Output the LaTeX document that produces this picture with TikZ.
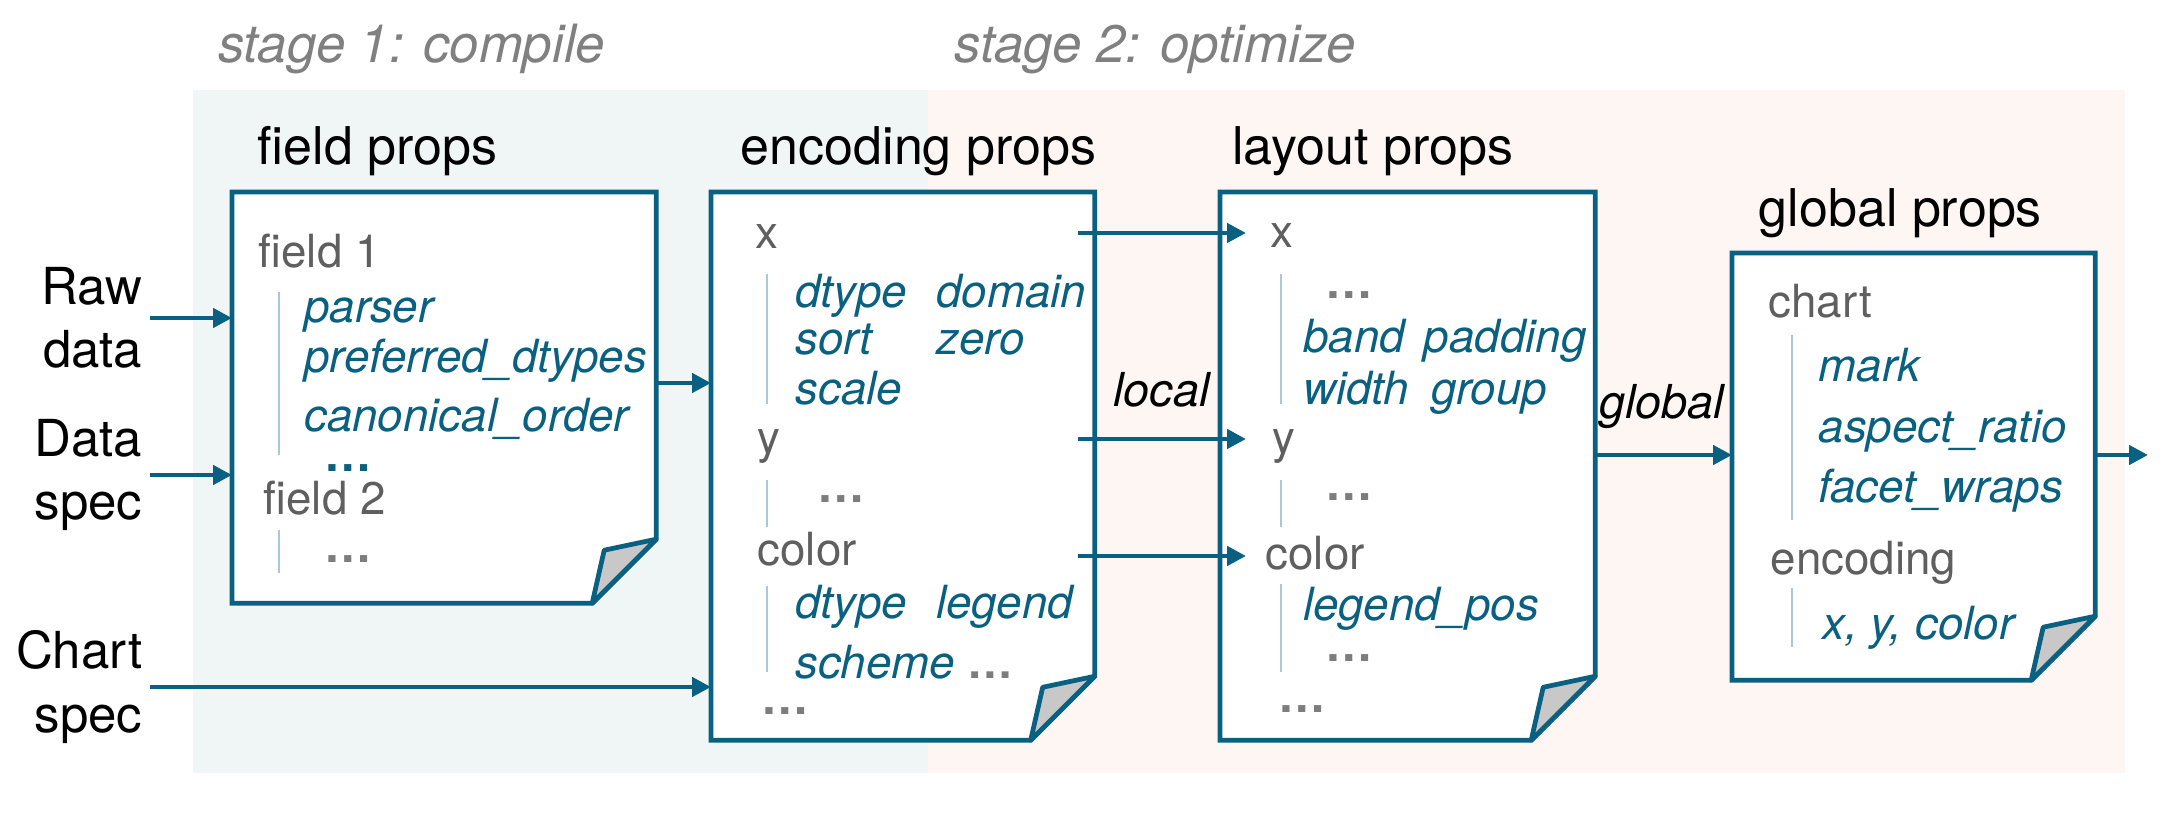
\documentclass[tikz,border=0pt]{standalone}
\usepackage{fontspec}
\setmainfont{TeX Gyre Heros}
\usepackage{tikz}
\usetikzlibrary{arrows.meta}

\tikzset{
  docbox/.style={draw=none,inner sep=0pt,outer sep=0pt,anchor=north west},
  pageline/.style={draw=boxColor,fill=white,line width=1.35pt,line join=miter},
  foldline/.style={draw=boxColor,fill=foldColor,line width=1.35pt,line join=round},
  bar/.style={draw=barColor,line width=0.8pt},
  flow/.style={draw=boxColor,line width=1.3pt,->,>={Triangle[length=5.4pt,width=5.4pt]}},
  grp/.style={anchor=base west,inner sep=0pt,text=grpColor,font=\fontsize{13}{15}\selectfont},
  prop/.style={anchor=base west,inner sep=0pt,text=boxColor,font=\fontsize{13}{15}\selectfont\itshape},
  dots/.style={anchor=base west,inner sep=0pt,text=dotColor,font=\fontsize{13.5}{15}\selectfont\bfseries},
  title/.style={anchor=base west,inner sep=0pt,font=\fontsize{14.8}{17}\selectfont},
  stagelbl/.style={anchor=base west,inner sep=0pt,text=stageColor,font=\fontsize{15}{17}\selectfont\itshape},
  inlbl/.style={anchor=east,inner sep=2pt,align=right,font=\fontsize{14.5}{18}\selectfont},
  edgelbl/.style={anchor=base west,inner sep=0pt,font=\fontsize{13.3}{15}\selectfont\itshape}
}

\begin{document}
\begin{tikzpicture}[x=0.01cm,y=-0.01cm]
\definecolor{boxColor}{RGB}{10,96,128}
\definecolor{grpColor}{RGB}{95,95,95}
\definecolor{dotColor}{RGB}{125,125,125}
\definecolor{stageColor}{RGB}{128,128,128}
\definecolor{barColor}{RGB}{170,200,215}
\definecolor{foldColor}{RGB}{200,200,200}
\definecolor{compileBg}{RGB}{240,246,246}
\definecolor{optimizeBg}{RGB}{254,246,243}
\useasboundingbox (0,0) rectangle (2178,816);
\fill[compileBg] (193,90) rectangle (928,773);
\fill[optimizeBg] (928,90) rectangle (2125,773);
\node[stagelbl] (stage1) at (217.5,63) {stage 1: compile};
\node[stagelbl] (stage2) at (954,63) {stage 2: optimize};
\node[title] (fieldtitle) at (257,165) {field props};
\node[title] (enctitle) at (740,165) {encoding props};
\node[title] (layouttitle) at (1231.6,165) {layout props};
\node[title] (globaltitle) at (1758,227) {global props};
\node[docbox,minimum width=4.24cm,minimum height=4.11cm] (fieldbox) at (232,192) {};
\node[docbox,minimum width=3.835cm,minimum height=5.48cm] (encbox) at (711,192) {};
\node[docbox,minimum width=3.75cm,minimum height=5.48cm] (layoutbox) at (1220,192) {};
\node[docbox,minimum width=3.63cm,minimum height=4.27cm] (globalbox) at (1732,253) {};
\foreach \b in {fieldbox,encbox,layoutbox,globalbox}
{
  \path[pageline] (\b.north west) -- (\b.north east) -- ([yshift=0.64cm]\b.south east) -- ([xshift=-0.64cm]\b.south east) -- (\b.south west) -- cycle;
  \path[foldline] ([xshift=-0.64cm]\b.south east) -- ([shift={(-0.52cm,0.53cm)}]\b.south east) -- ([yshift=0.64cm]\b.south east) -- cycle;
}
\foreach \x/\ya/\yb in {279/292/455,279/530/573,767/274/404,767/480/527,767/586/672,1281/274/404,1281/480/527,1281/584/672,1792/335/520,1792/588/647}
  \draw[bar] (\x,\ya) -- (\x,\yb);
% field props
\node[grp] (field1) at (258,268) {field 1};
\node[prop] (parser) at (303.6,323) {parser};
\node[prop] (prefdtypes) at (303.6,373) {preferred\_dtypes};
\node[prop] (canorder) at (303.6,432) {canonical\_order};
\node[dots,text=boxColor] (fielddots) at (324,472) {\ldots};
\node[grp] (field2) at (263,515) {field 2};
\node[dots] (field2dots) at (324,563) {\ldots};
% encoding props
\node[grp] (encx) at (755,249) {x};
\node[prop] (encdtype) at (794.6,308) {\makebox[1.41cm][l]{dtype}domain};
\node[prop] (encsort) at (794.6,354.6) {\makebox[1.41cm][l]{sort}zero};
\node[prop] (encscale) at (794.6,404.5) {scale};
\node[grp] (ency) at (757,453.5) {y};
\node[dots] (encydots) at (817,503) {\ldots};
\node[grp] (enccolor) at (757,566) {color};
\node[prop] (enccdtype) at (794.6,619) {\makebox[1.41cm][l]{dtype}legend};
\node[prop] (encscheme) at (794.6,678.5) {scheme \textcolor{dotColor}{\upshape\bfseries\ldots}};
\node[dots] (encdots) at (761,715) {\ldots};
% layout props
\node[grp] (layx) at (1270,248) {x};
\node[dots] (layxdots) at (1325,299) {\ldots};
\node[prop] (layband) at (1302.5,353) {\makebox[1.205cm][l]{band}padding};
\node[prop] (laywidth) at (1302.5,404.5) {\makebox[1.28cm][l]{width}group};
\node[grp] (layy) at (1272,453.5) {y};
\node[dots] (layydots) at (1325,500.6) {\ldots};
\node[grp] (laycolor) at (1265,570) {color};
\node[prop] (laylegend) at (1302.5,621) {legend\_pos};
\node[dots] (laycdots) at (1325,662) {\ldots};
\node[dots] (laydots) at (1277.5,713) {\ldots};
% global props
\node[grp] (glchart) at (1768,318) {chart};
\node[prop] (glmark) at (1818,381.7) {mark};
\node[prop] (glaspect) at (1818,443) {aspect\_ratio};
\node[prop] (glfacet) at (1818,503) {facet\_wraps};
\node[grp] (glenc) at (1770,575) {encoding};
\node[prop] (glxyc) at (1821.7,640) {x, y, color};
% inputs and flows
\node[inlbl] (rawlbl) at (150,318) {Raw\\data};
\node[inlbl] (datalbl) at (150,475) {Data\\spec};
\node[inlbl] (chartlbl) at (150,687) {Chart\\spec};
\node[edgelbl] (locallbl) at (1112.6,406.6) {local};
\node[edgelbl] (globallbl) at (1599,418.8) {global};
\coordinate (fieldout) at (0,383);
\coordinate (encxout) at (1078,233);
\coordinate (encyout) at (1078,439);
\coordinate (enccout) at (1078,556);
\coordinate (globflow) at (0,455);
\coordinate (finalout) at (2148,455);
\draw[flow] (rawlbl.east) -- (rawlbl.east -| fieldbox.west);
\draw[flow] (datalbl.east) -- (datalbl.east -| fieldbox.west);
\draw[flow] (chartlbl.east) -- (chartlbl.east -| encbox.west);
\draw[flow] (fieldout -| fieldbox.east) -- (fieldout -| encbox.west);
\draw[flow,shorten >=0.24cm] (encxout) -- (encxout -| layx.west);
\draw[flow,shorten >=0.26cm] (encyout) -- (encyout -| layy.west);
\draw[flow,shorten >=0.19cm] (enccout) -- (enccout -| laycolor.west);
\draw[flow] (globflow -| layoutbox.east) -- (globflow -| globalbox.west);
\draw[flow] (globflow -| globalbox.east) -- (finalout);
\end{tikzpicture}
\end{document}
